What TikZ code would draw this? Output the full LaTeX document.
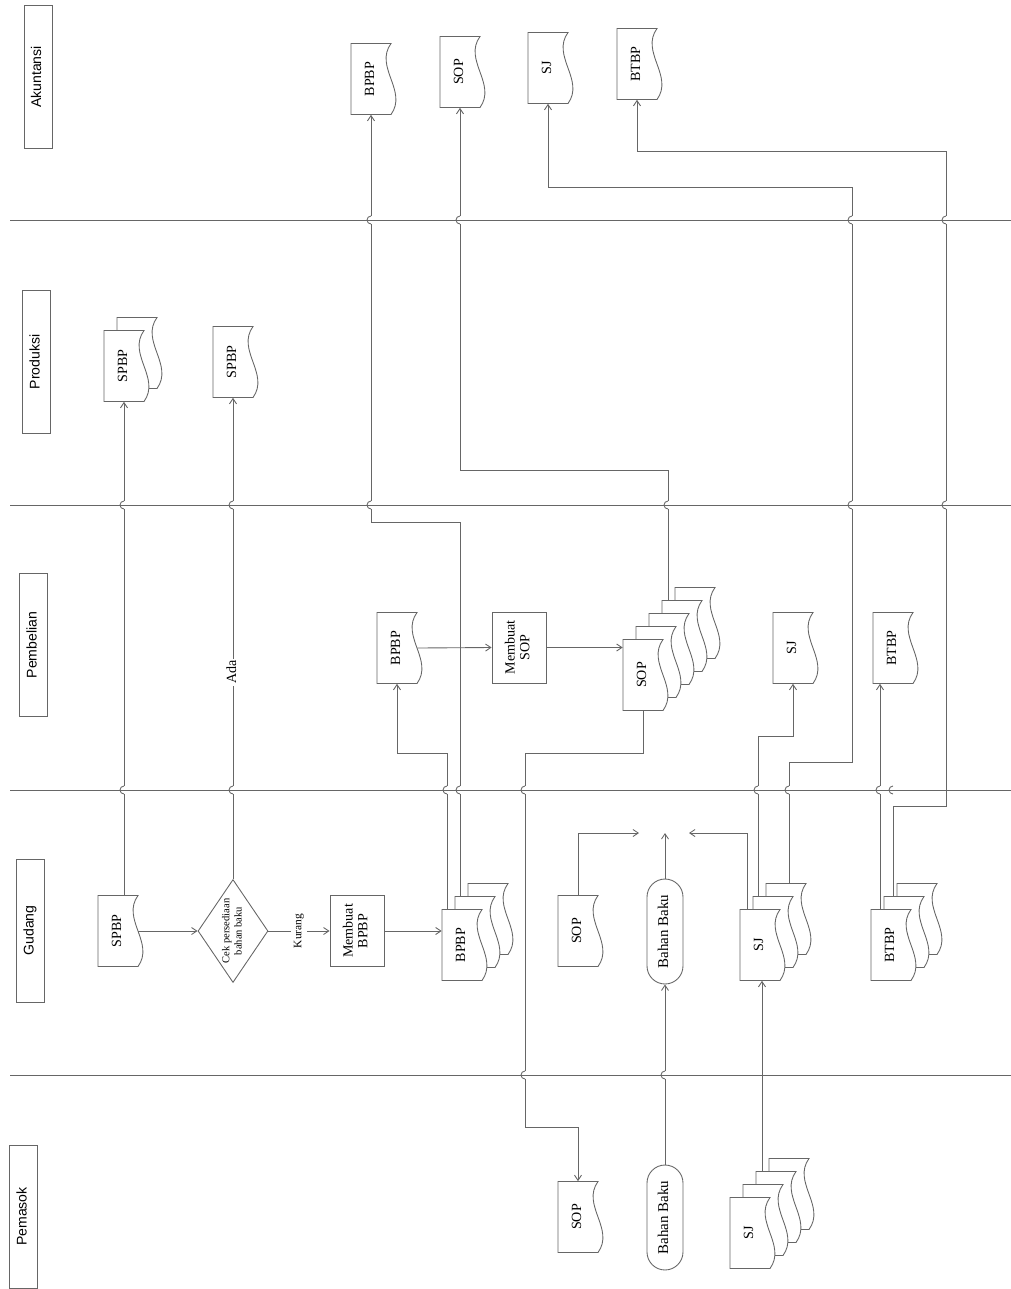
\documentclass[tikz,border=0pt]{standalone}
\usepackage{fontspec}
\setmainfont{Liberation Serif}
\setsansfont{Liberation Sans}
\usepackage{graphicx}
\usetikzlibrary{shapes.geometric, arrows.meta}
\tikzstyle{flowline} = [draw=black!60, line width=0.5pt]
\tikzstyle{arrow} = [flowline, -{Straight Barb[length=3pt, width=4pt]}]
\tikzstyle{lane} = [rectangle, draw=black!60, line width=0.5pt, minimum width=0.56cm, minimum height=2.86cm, inner sep=0pt, font=\sffamily\fontsize{8}{9}\selectfont]
\tikzstyle{doc} = [rectangle, minimum width=0.8cm, minimum height=1.42cm, inner sep=0pt, font=\fontsize{8}{9}\selectfont]
\tikzstyle{process} = [rectangle, draw=black!60, line width=0.5pt, fill=white, minimum width=1.08cm, minimum height=1.42cm, inner sep=0pt, text centered, font=\fontsize{8}{8.5}\selectfont]
\tikzstyle{terminal} = [rectangle, rounded corners=0.36cm, draw=black!60, line width=0.5pt, minimum width=0.72cm, minimum height=2.1cm, inner sep=0pt, font=\fontsize{8.5}{9}\selectfont]
\tikzstyle{decision} = [diamond, draw=black!60, line width=0.5pt, shape aspect=0.68, minimum width=1.4cm, minimum height=2.06cm, inner sep=0pt, font=\fontsize{6}{7}\selectfont]
\tikzstyle{edgelabel} = [fill=white, inner sep=1pt]

\newcommand{\rt}[1]{\rotatebox{90}{\begin{tabular}{@{}c@{}}#1\end{tabular}}}
\newcommand{\docshape}[2]{\filldraw[flowline, fill=white] (#1-20,#2-35.5) -- (#1+20,#2-35.5) .. controls (#1+3,#2-12) and (#1+37,#2+12) .. (#1+20,#2+35.5) -- (#1-20,#2+35.5) -- cycle;}
\newcommand{\docnode}[4]{\docshape{#2}{#3}\node (#1) [doc] at (#2,#3) {\rt{#4}};}
\newcommand{\docstack}[5]{%
  \foreach \i in {#5,...,1}{\docshape{#2+13*\i}{#3-13*\i}\node (#1-\i) [doc] at (#2+13*\i,#3-13*\i) {};}
  \docnode{#1}{#2}{#3}{#4}}
\newcommand{\hoplist}{371/220,460/220,852/220,946/220,124/505,233/505,371/505,668/505,852/505,946/505,124/790,233/790,447/790,460/790,525/790,758/790,789/790,880/790,893/790,525/1075,665/1075}

\begin{document}
\begin{tikzpicture}[x=0.02cm, y=-0.02cm]
\useasboundingbox (0,0) rectangle (1011,1289);

\node (akt) [lane] at (38,77) {\rt{Akuntansi}};
\node (prd) [lane] at (36.5,362) {\rt{Produksi}};
\node (pmb) [lane] at (33.5,645) {\rt{Pembelian}};
\node (gdg) [lane] at (30.5,930.5) {\rt{Gudang}};
\node (pms) [lane] at (23.5,1216.5) {\rt{Pemasok}};

% Akuntansi
\docnode{bpbpA}{371}{79}{BPBP}
\docnode{sopA}{460}{72}{SOP}
\docnode{sjA}{548}{68}{SJ}
\docnode{btbpA}{637}{64}{BTBP}

% Produksi
\docstack{spbpP}{124}{366}{SPBP}{1}
\docnode{spbpP2}{233}{362}{SPBP}

% Pembelian
\docnode{bpbpB}{397}{648}{BPBP}
\node (msop) [process] at (519,647.5) {\rt{Membuat\\SOP}};
\docstack{sopB}{643}{675}{SOP}{4}
\docnode{sjB}{793}{648}{SJ}
\docnode{btbpB}{893}{648}{BTBP}

% Gudang
\docnode{spbpG}{118}{931}{SPBP}
\node (cekG) [decision] at (233,931) {\rt{Cek persediaan\\bahan baku}};
\node (mbpbp) [process] at (357,931) {\rt{Membuat\\BPBP}};
\docstack{bpbpG}{462}{945}{BPBP}{2}
\docnode{sopG}{578}{931}{SOP}
\node (bbG) [terminal] at (665,931.5) {\rt{Bahan Baku}};
\docstack{sjG}{760}{945}{SJ}{2}
\docstack{btbpG}{891}{945}{BTBP}{2}
\coordinate (inL) at (639,833);
\coordinate (inG) at (665,833);
\coordinate (inR) at (689,833);

% Pemasok
\docnode{sopP}{578}{1217}{SOP}
\node (bbP) [terminal] at (665,1217.5) {\rt{Bahan Baku}};
\docstack{sjP}{750}{1233}{SJ}{3}

\draw [arrow, {Straight Barb[length=3pt, width=4pt]}-] (spbpP.south) -- (spbpP.south |- spbpG.north);
\draw [arrow] (spbpG.east) -- (cekG.west);
\draw [arrow] (cekG.north) -- node[edgelabel, pos=0.43, font=\fontsize{8}{9}\selectfont] {\rt{Ada}} (spbpP2.south);
\draw [arrow] (cekG.east) -- node[edgelabel, font=\fontsize{6.5}{7}\selectfont] {\rt{Kurang}} (mbpbp.west);
\draw [arrow] (mbpbp.east) -- (mbpbp.east -| bpbpG.west);
\draw [arrow] ([xshift=-0.3cm]bpbpG.north) -- ++(0,-156) -| (bpbpB.south);
\draw [arrow] ([xshift=-0.3cm]bpbpG-1.north) -- ++(0,-374) -| (bpbpA.south);
\draw [arrow] (bpbpB.east) -- (msop.west);
\draw [arrow] (msop.east) -- (msop.east -| sopB.west);
\draw [arrow] ([xshift=-0.28cm]sopB-3.north) -- ++(0,-130) -| (sopA.south);
\draw [arrow] (sopB.south) |- ++(-118,43) -- ++(0,374) -| (sopP.north);
\draw [arrow] (bbP.north) -- (bbG.south);
\draw [arrow] (bbG.north) -- (inG);
\draw [arrow] (sopG.north) |- (inL);
\draw [arrow] ([xshift=-0.26cm]sjG.north) |- (inR);
\draw [arrow] ([xshift=-0.3cm]sjG-1.north) -- ++(0,-160) -| (sjB.south);
\draw [arrow] ([xshift=0.06cm]sjG-2.north) |- ++(63,-121) |- ++(-304,-575) -| (sjA.south);
\draw [arrow] ([xshift=-0.28cm]sjP-2.north) -- ([xshift=-0.28cm]sjP-2.north |- sjG.south);
\draw [arrow] ([xshift=-0.22cm]btbpG.north) -- ([xshift=-0.22cm]btbpG.north |- btbpB.south);
\draw [arrow] ([xshift=-0.22cm]btbpG-1.north) |- ++(53,-90) |- ++(-309,-655) -| (btbpA.south);

\foreach \x/\y in \hoplist
  \fill[white] (\x-1.5,\y-4) rectangle (\x+1.5,\y+4);
\foreach \y in {220,505,790,1075}
  \draw [flowline] (10,\y) -- (1011,\y);
\foreach \x/\y in \hoplist
  \draw [flowline] (\x,\y-4) arc[start angle=90, end angle=270, radius=0.08cm];
\end{tikzpicture}
\end{document}
